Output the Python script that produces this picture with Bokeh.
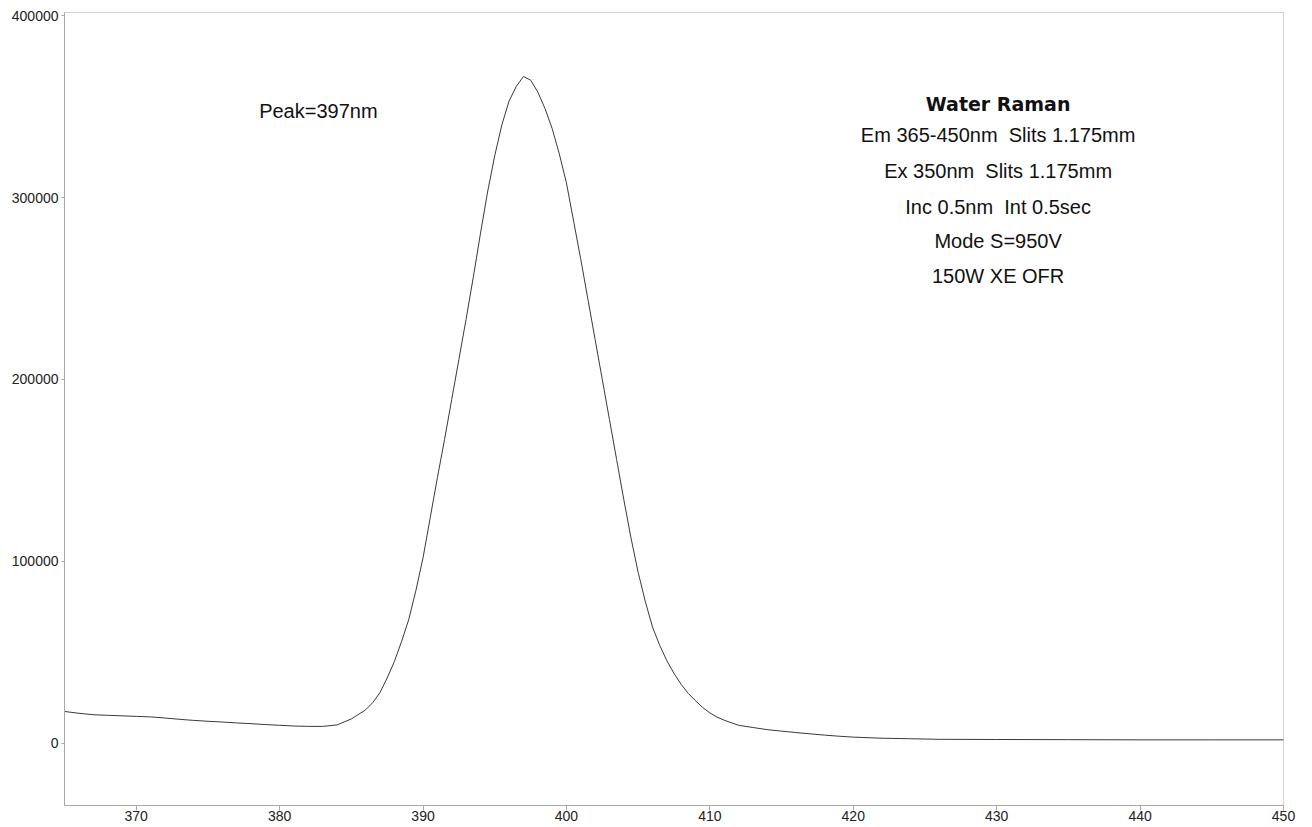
from bokeh.plotting import figure
from bokeh.models import Label, FixedTicker, NumeralTickFormatter, Range1d
from bokeh.embed import file_html
from bokeh.resources import INLINE

# Emission wavelength (nm) and intensity (counts)
wavelength = [365, 366, 367, 368, 369, 370, 371, 372, 373, 374, 375, 376, 377, 378, 379,
              380, 381, 382, 383, 384, 385, 386, 386.5, 387, 387.5, 388, 388.5, 389, 389.5,
              390, 390.5, 391, 391.5, 392, 392.5, 393, 393.5, 394, 394.5, 395, 395.5, 396,
              396.5, 397, 397.5, 398, 398.5, 399, 399.5, 400, 400.5, 401, 401.5, 402,
              402.5, 403, 403.5, 404, 404.5, 405, 405.5, 406, 406.5, 407, 407.5, 408,
              408.5, 409, 409.5, 410, 410.5, 411, 412, 413, 414, 415, 416, 417, 418, 419,
              420, 422, 424, 426, 430, 435, 440, 445, 450]
intensity = [17600, 16600, 15800, 15500, 15200, 14900, 14600, 14000, 13300, 12700, 12200,
             11800, 11300, 10900, 10400, 10000, 9600, 9400, 9400, 10200, 13500, 18500,
             22500, 28000, 36000, 45000, 56000, 68000, 84000, 102000, 124000, 146000,
             167000, 189000, 211000, 233000, 256000, 280000, 303000, 323000, 340000,
             353000, 361000, 366500, 364500, 358000, 349000, 338000, 324000, 308000,
             287000, 266000, 244000, 222000, 200000, 178000, 156000, 134000, 113000,
             94000, 78000, 64000, 54000, 45500, 38500, 32500, 27500, 23500, 19800, 16800,
             14500, 12800, 10000, 8800, 7600, 6800, 6000, 5300, 4600, 4000, 3500, 2900,
             2600, 2300, 2200, 2100, 2000, 2000, 2000]

x_ticks = [370, 380, 390, 400, 410, 420, 430, 440, 450]
y_ticks = [0, 100000, 200000, 300000, 400000]

peak_text = "Peak=397nm"
info_title = "Water Raman"
info_lines = ["Em 365-450nm \u00a0Slits 1.175mm", "Ex 350nm \u00a0Slits 1.175mm",
              "Inc 0.5nm \u00a0Int 0.5sec", "Mode S=950V", "150W XE OFR"]

FONT = "Liberation Sans"

p = figure(width=1300, height=823, output_backend="svg", toolbar_location=None,
           x_range=Range1d(365, 450), y_range=Range1d(-34070, 401650),
           min_border_left=64, min_border_right=17, min_border_top=12, min_border_bottom=18)

p.line(wavelength, intensity, line_color="#3a3a3a", line_width=1)

p.xgrid.visible = False
p.ygrid.visible = False
p.outline_line_color = "#d4d4d4"
p.background_fill_color = "white"
p.border_fill_color = "white"

p.xaxis.ticker = FixedTicker(ticks=x_ticks)
p.yaxis.ticker = FixedTicker(ticks=y_ticks)
p.yaxis.formatter = NumeralTickFormatter(format="0")
for ax in (p.xaxis, p.yaxis):
    ax.axis_line_color = "#a8a8a8"
    ax.major_tick_line_color = "#a8a8a8"
    ax.minor_tick_line_color = None
    ax.major_tick_in = 0
    ax.major_label_text_font = FONT
    ax.major_label_text_font_size = "14px"
    ax.major_label_text_color = "#222222"
p.xaxis.major_tick_out = 5
p.xaxis.major_label_standoff = 0
p.yaxis.major_tick_out = 3
p.yaxis.major_label_standoff = 3

p.add_layout(Label(x=382.7, y=347800, text=peak_text, text_font=FONT,
                   text_font_size="20px", text_align="center", text_baseline="middle",
                   text_color="#111111"))
p.add_layout(Label(x=430.1, y=351400, text=info_title, text_font="DejaVu Sans",
                   text_font_style="bold", text_font_size="19px", text_align="center",
                   text_baseline="middle", text_color="#111111"))
line_y = [334600, 314500, 295000, 275900, 256600]
for t, yy in zip(info_lines, line_y):
    p.add_layout(Label(x=430.1, y=yy, text=t, text_font=FONT, text_font_size="20px",
                       text_align="center", text_baseline="middle", text_color="#111111"))

open("out.html", "w").write(file_html(p, INLINE))
